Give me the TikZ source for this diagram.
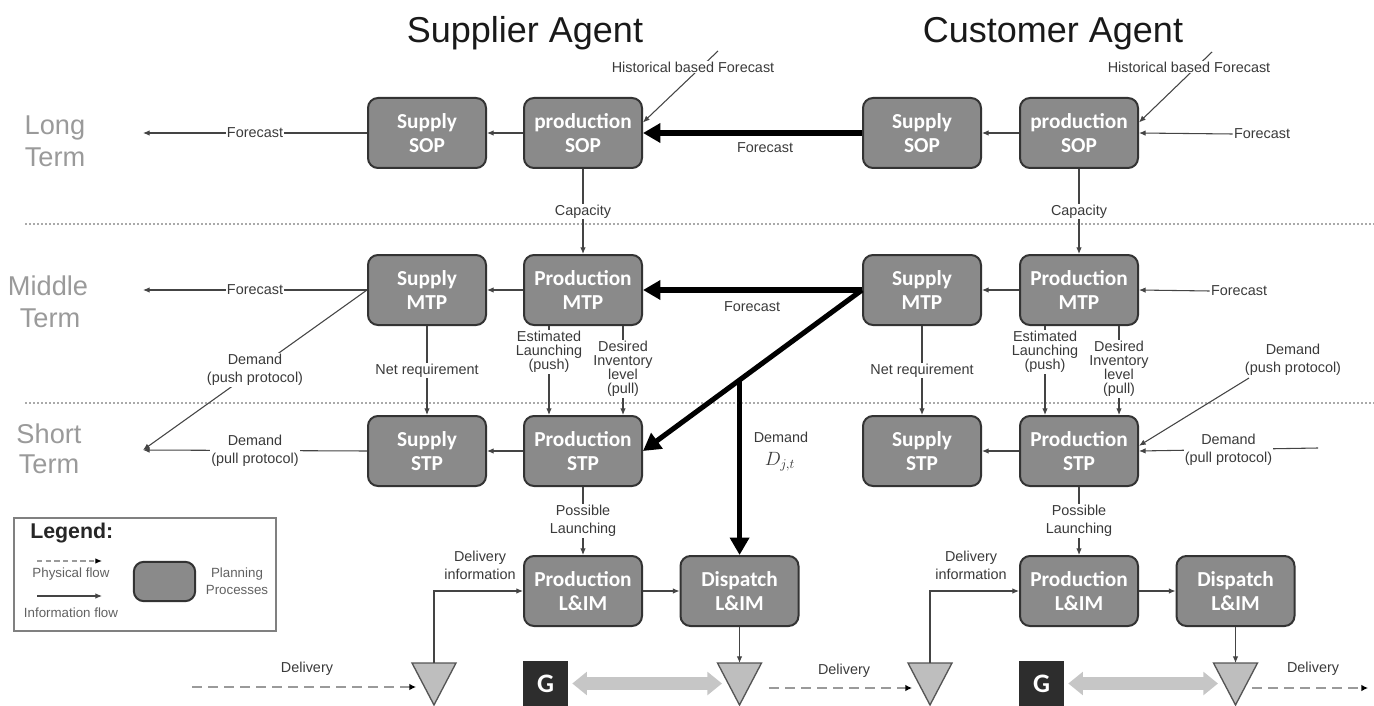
\documentclass[tikz,border=0pt]{standalone}
\usepackage{fontspec}
\setmainfont{Liberation Sans}
\newfontfamily\boxfont{Carlito}
\usetikzlibrary{arrows.meta,calc}
\definecolor{boxfill}{HTML}{8A8A8A}
\definecolor{boxline}{HTML}{333333}
\definecolor{labtxt}{HTML}{3A3A3A}
\definecolor{linecol}{HTML}{444444}
\definecolor{termgray}{HTML}{9A9A9A}
\definecolor{trifill}{HTML}{BEBEBE}
\definecolor{trilin}{HTML}{555555}
\definecolor{gfill}{HTML}{2D2D2D}
\definecolor{dblcol}{HTML}{C6C6C6}
\definecolor{dashcol}{HTML}{9A9A9A}
\definecolor{sepcol}{HTML}{AAAAAA}
\tikzset{
 proc/.style={draw=boxline, line width=1.5pt, fill=boxfill, rounded corners=7.5pt,
   minimum width=88.5pt, minimum height=52.5pt, inner sep=0pt, align=center, text=white,
   font=\boxfont\bfseries\fontsize{16}{18.5}\selectfont},
 lab/.style={fill=white, inner sep=0.8pt, text=labtxt, align=center, font=\fontsize{10.8}{13.5}\selectfont},
 tightlab/.style={lab, font=\fontsize{10.8}{10.6}\selectfont},
 leglab/.style={inner sep=0pt, text=labtxt!80, align=center, font=\fontsize{10}{12.75}\selectfont},
 info/.style={draw=linecol, line width=0.8pt, -{Latex[length=5pt,width=4.2pt]}},
 bigarrow/.style={draw=black, line width=3.8pt, -{Triangle[length=13pt,width=14pt]}},
 phys/.style={draw=dashcol, line width=1.9pt, dash pattern=on 7.5pt off 4.5pt, -{Latex[length=5pt,width=5pt,color=black]}},
 legphys/.style={draw=dashcol, line width=0.9pt, dash pattern=on 4pt off 2.5pt, -{Latex[length=5pt,width=4.2pt,color=black]}},
 sepline/.style={draw=sepcol, line width=1.2pt, dash pattern=on 1.5pt off 1.5pt},
 tri/.style={draw=trilin, line width=1pt, fill=trifill},
 gnode/.style={fill=gfill, minimum width=33.75pt, minimum height=33.75pt, inner sep=0pt, text=white,
   font=\boxfont\bfseries\fontsize{20}{20}\selectfont},
 dblarrow/.style={draw=dblcol, line width=9.5pt, {Triangle[length=11pt,width=17pt]}-{Triangle[length=11pt,width=17pt]}},
 term/.style={text=termgray, font=\fontsize{20.4}{24}\selectfont, inner sep=0pt, anchor=base},
 titlestyle/.style={text=black!90, font=\fontsize{27}{30}\selectfont, inner sep=0pt, anchor=base},
}
\begin{document}
\begin{tikzpicture}[x=0.75pt,y=-0.75pt]
\useasboundingbox (0,0) rectangle (1374,706);

% separators
\draw[sepline] (25,224) -- (1374,224);
\draw[sepline] (25,403) -- (1374,403);

% titles
\node[titlestyle] (tS) at (525,43) {Supplier Agent};
\node[titlestyle] (tC) at (1053,43) {Customer Agent};

% term labels
\node[term] (l1) at (55,135) {Long};
\node[term] (l2) at (55,167) {Term};
\node[term] (m1) at (48,295) {Middle};
\node[term] (m2) at (50,327) {Term};
\node[term] (s1) at (49,443) {Short};
\node[term] (s2) at (49,473) {Term};

% boxes supplier
\node[proc] (sSOP) at (427,133) {Supply\\SOP};
\node[proc] (pSOP) at (583,133) {production\\SOP};
\node[proc] (sMTP) at (427,290) {Supply\\MTP};
\node[proc] (pMTP) at (583,290) {Production\\MTP};
\node[proc] (sSTP) at (427,451) {Supply\\STP};
\node[proc] (pSTP) at (583,451) {Production\\STP};
\node[proc] (pLIM) at (583,591) {Production\\L\&IM};
\node[proc] (dLIM) at (739.5,591) {Dispatch\\L\&IM};
% boxes customer
\node[proc] (cSSOP) at (922,133) {Supply\\SOP};
\node[proc] (cPSOP) at (1079,133) {production\\SOP};
\node[proc] (cSMTP) at (922,290) {Supply\\MTP};
\node[proc] (cPMTP) at (1079,290) {Production\\MTP};
\node[proc] (cSSTP) at (922,451) {Supply\\STP};
\node[proc] (cPSTP) at (1079,451) {Production\\STP};
\node[proc] (cPLIM) at (1079,591) {Production\\L\&IM};
\node[proc] (cDLIM) at (1235.5,591) {Dispatch\\L\&IM};

% free ends
\coordinate (fl1) at (143,133);
\coordinate (fl2) at (143,290);
\coordinate (fl3) at (143,450);
\coordinate (h1) at (718,51);
\coordinate (h2) at (1212,52);

% long term
\draw[info] (sSOP.west) -- node[lab]{Forecast} (fl1);
\draw[info] (pSOP.west) -- (sSOP.east);
\draw[bigarrow] (cSSOP.west) -- (pSOP.east);
\node[lab, fill=none] (fcl) at (765,148) {Forecast};
\draw[info] (h1) -- (pSOP.10);
\node[lab] (hl1) at (693,67) {Historical based Forecast};
\draw[info] (cPSOP.west) -- (cSSOP.east);
\draw[info] (h2) -- (cPSOP.10);
\node[lab] (hl2) at (1189,67) {Historical based Forecast};
\node[lab] (cf1) at (1262,134) {Forecast};
\draw[info] (cf1.west) -- (cPSOP.east);
\draw[info] (pSOP.south) -- node[lab]{Capacity} (pMTP.north);
\draw[info] (cPSOP.south) -- node[lab]{Capacity} (cPMTP.north);

% middle term
\draw[info] (sMTP.west) -- node[lab]{Forecast} (fl2);
\draw[info] (pMTP.west) -- (sMTP.east);
\draw[info] (sMTP.west) -- node[lab, pos=0.5]{Demand\\(push protocol)} (fl3);
\draw[bigarrow] (cSMTP.west) -- (pMTP.east);
\node[lab, fill=none] (fcm) at (752,307) {Forecast};
\draw[bigarrow] (cSMTP.west) -- (pSTP.east);
\coordinate (dj) at ($(cSMTP.west)!0.559!(pSTP.east)$);
\draw[bigarrow] (dj) -- (dj |- dLIM.north);
\node[lab, fill=none] (dem) at (781,437) {Demand};
\node[inner sep=0pt, text=labtxt, font=\fontsize{14}{14}\selectfont] (djt) at (780,462) {$D_{j,t}$};
\draw[info] (sMTP) -- node[lab]{Net requirement} (sSTP);
\draw[info] ([xshift=-25.5pt]pMTP.south) -- node[tightlab, pos=0.29]{Estimated\\Launching\\(push)} ([xshift=-25.5pt]pSTP.north);
\draw[info] ([xshift=30pt]pMTP.south) -- node[tightlab, pos=0.48]{Desired\\Inventory\\level\\(pull)} ([xshift=30pt]pSTP.north);
\draw[info] (cPMTP.west) -- (cSMTP.east);
\node[lab] (cf2) at (1239,291) {Forecast};
\draw[info] (cf2.west) -- (cPMTP.east);
\draw[info] (cSMTP) -- node[lab]{Net requirement} (cSSTP);
\draw[info] ([xshift=-25.5pt]cPMTP.south) -- node[tightlab, pos=0.29]{Estimated\\Launching\\(push)} ([xshift=-25.5pt]cPSTP.north);
\draw[info] ([xshift=30pt]cPMTP.south) -- node[tightlab, pos=0.48]{Desired\\Inventory\\level\\(pull)} ([xshift=30pt]cPSTP.north);

% short term
\draw[info] (sSTP.west) -- node[lab]{Demand\\(pull protocol)} (fl3);
\draw[info] (pSTP.west) -- (sSTP.east);
\draw[info] (cPSTP.west) -- (cSSTP.east);
\coordinate (cdp) at (1318,448);
\draw[info] (cdp) -- node[lab, pos=0.5]{Demand\\(pull protocol)} (cPSTP.east);
\coordinate (cps) at (1249,378);
\draw[info] (cps) -- (cPSTP.5);
\node[lab, fill=none] (cpl) at (1293,360) {Demand\\(push protocol)};
\draw[info] (pSTP) -- node[lab]{Possible\\Launching} (pLIM);
\draw[info] (cPSTP) -- node[lab]{Possible\\Launching} (cPLIM);

% L&IM
\draw[info] (pLIM) -- (dLIM);
\draw[info] (cPLIM) -- (cDLIM);

% triangles
\draw[tri] (412,663) -- (456,663) -- (434,705) -- cycle;
\coordinate (t1) at (434,663);
\draw[tri] (717.5,663) -- (761.5,663) -- (739.5,705) -- cycle;
\coordinate (t2) at (739.5,663);
\draw[tri] (908,663) -- (952,663) -- (930,705) -- cycle;
\coordinate (t3) at (930,663);
\draw[tri] (1213.5,663) -- (1257.5,663) -- (1235.5,705) -- cycle;
\coordinate (t4) at (1235.5,663);

\draw[info] (t1) |- (pLIM.west);
\node[lab, fill=none] (di1) at (480,565) {Delivery\\information};
\draw[info] (t3) |- (cPLIM.west);
\node[lab, fill=none] (di2) at (971,565) {Delivery\\information};
\draw[info] (dLIM) -- (t2);
\draw[info] (cDLIM) -- (t4);

% deliveries
\coordinate (d1s) at (192,687); \coordinate (d1e) at (416,687);
\draw[phys] (d1s) -- (d1e);
\node[lab, fill=none] (dl1) at (307,669) {Delivery};
\coordinate (d2s) at (769,688); \coordinate (d2e) at (912,688);
\draw[phys] (d2s) -- (d2e);
\node[lab, fill=none] (dl2) at (844,671) {Delivery};
\coordinate (d3s) at (1252,688); \coordinate (d3e) at (1368,688);
\draw[phys] (d3s) -- (d3e);
\node[lab, fill=none] (dl3) at (1313,669) {Delivery};

% G nodes
\node[gnode] (G1) at (545.5,683.5) {G};
\node[gnode] (G2) at (1041.5,683.5) {G};
\coordinate (g1e) at (722,683.5);
\coordinate (g2e) at (1218,683.5);
\draw[dblarrow] ([xshift=3pt]G1.east) -- (g1e);
\draw[dblarrow] ([xshift=3pt]G2.east) -- (g2e);

% legend
\node[draw=gray, line width=1.1pt, minimum width=196.5pt, minimum height=84.75pt, inner sep=0pt] (legbox) at (145,574.5) {};
\node[font=\bfseries\fontsize{16}{16}\selectfont, text=black!85, anchor=west, inner sep=0pt] (legt) at (30,533) {Legend:};
\coordinate (lp1) at (37,561); \coordinate (lp2) at (102,561);
\draw[legphys] (lp1) -- (lp2);
\node[leglab] (lpt) at (71,574) {Physical flow};
\coordinate (li1) at (37,596); \coordinate (li2) at (102,596);
\draw[info] (li1) -- (li2);
\node[leglab] (lit) at (71,613) {Information flow};
\node[proc, minimum width=46pt, minimum height=29.5pt] (legproc) at (164.5,581.5) {};
\node[leglab] (lpp) at (237,581.5) {Planning\\Processes};
\end{tikzpicture}
\end{document}
